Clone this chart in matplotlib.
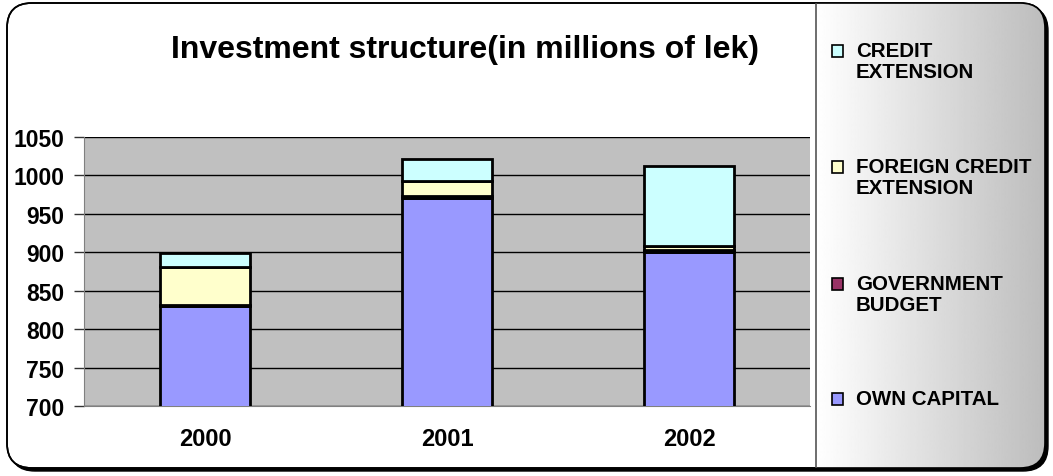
import numpy as np
import matplotlib
matplotlib.use("Agg")
import matplotlib.pyplot as plt
import matplotlib.patches as patches
from matplotlib.transforms import IdentityTransform

plt.rcParams['font.family'] = ['Liberation Sans', 'DejaVu Sans']
plt.rcParams['font.weight'] = 'bold'

years = ['2000', '2001', '2002']
own_capital = [830, 971, 900]
government_budget = [1, 2, 3]
foreign_credit = [50, 20, 5]
credit_extension = [18, 29, 104]

series_names = ['OWN CAPITAL', 'GOVERNMENT\nBUDGET', 'FOREIGN CREDIT\nEXTENSION', 'CREDIT\nEXTENSION']
series_colors = ['#9999FF', '#993366', '#FFFFCC', '#CCFFFF']
y_ticks = [700, 750, 800, 850, 900, 950, 1000, 1050]

W, H = 1053, 477
fig = plt.figure(figsize=(W / 100, H / 100), dpi=100)
fig.patch.set_facecolor('white')

def px(x, y):
    # image pixel (top-left origin) -> display coords
    return x, H - y

# outer rounded frame with drop shadow
fx0, fy0, fx1, fy1 = 7, 4, 1045, 469
shadow = patches.FancyBboxPatch(px(fx0 + 3, fy1 + 3), fx1 - fx0, fy1 - fy0,
                                boxstyle="round,pad=0,rounding_size=25",
                                transform=IdentityTransform(), facecolor='black',
                                edgecolor='black', zorder=0)
fig.patches.append(shadow)
frame = patches.FancyBboxPatch(px(fx0, fy1), fx1 - fx0, fy1 - fy0,
                               boxstyle="round,pad=0,rounding_size=25",
                               transform=IdentityTransform(), facecolor='white',
                               edgecolor='black', linewidth=1.2, zorder=1)
fig.patches.append(frame)

# legend panel with white-to-gray gradient
lx0 = 816
lax = fig.add_axes([0, 0, 1, 1], zorder=2)
lax.set_xlim(0, W)
lax.set_ylim(H, 0)
lax.axis('off')
grad = np.linspace(1.0, 0.74, 256).reshape(1, -1)
img = lax.imshow(grad, cmap='gray', vmin=0, vmax=1, aspect='auto',
                 extent=[lx0, fx1, fy1, fy0], interpolation='bilinear')
clip = patches.FancyBboxPatch((fx0, fy0), fx1 - fx0, fy1 - fy0,
                              boxstyle="round,pad=0,rounding_size=25",
                              transform=lax.transData, facecolor='none', edgecolor='none')
lax.add_patch(clip)
img.set_clip_path(clip)
lax.plot([lx0, lx0], [fy0 + 1, fy1 - 1], color='#555555', linewidth=1.2)
outline = patches.FancyBboxPatch((fx0, fy0), fx1 - fx0, fy1 - fy0,
                                 boxstyle="round,pad=0,rounding_size=25",
                                 transform=lax.transData, facecolor='none',
                                 edgecolor='black', linewidth=1.2)
lax.add_patch(outline)

# legend entries, top to bottom
legend_rows = [52, 168, 285, 400]
for name, color, yrow in zip(series_names[::-1], series_colors[::-1], legend_rows):
    lax.add_patch(patches.Rectangle((832, yrow - 6), 11, 12, facecolor=color,
                                    edgecolor='black', linewidth=1.2))
    lax.text(856, yrow - 10, name, fontsize=14.8, fontweight='bold',
             va='top', ha='left', linespacing=1.15)

# plot area
ax = fig.add_axes([84 / W, (H - 407) / H, 726 / W, (407 - 138) / H], zorder=3)
ax.set_facecolor('#C0C0C0')
x = np.arange(len(years))
bottom = np.zeros(len(years))
for vals, color in zip([own_capital, government_budget, foreign_credit, credit_extension], series_colors):
    ax.bar(x, vals, bottom=bottom, width=0.37, color=color, edgecolor='black',
           linewidth=2, zorder=3)
    bottom += np.array(vals)

ax.set_xlim(-0.5, 2.5)
ax.set_ylim(700, 1050)
ax.set_yticks(y_ticks)
ax.set_xticks(x)
ax.set_xticklabels(years)
ax.yaxis.grid(True, color='black', linewidth=1)
ax.set_axisbelow(True)
ax.tick_params(axis='y', length=7, width=1, labelsize=16.5, pad=7, color='#333333')
ax.tick_params(axis='x', length=0, labelsize=17, pad=15)
for lbl in ax.get_xticklabels() + ax.get_yticklabels():
    lbl.set_fontweight('bold')
for side in ['top', 'right']:
    ax.spines[side].set_visible(False)
ax.spines['left'].set_color('#808080')
ax.spines['bottom'].set_color('#808080')

fig.text(465 / W, 1 - 50 / H, 'Investment structure(in millions of lek)',
         fontsize=23, fontweight='bold', ha='center', va='center')

fig.savefig('out.png', dpi=100)
